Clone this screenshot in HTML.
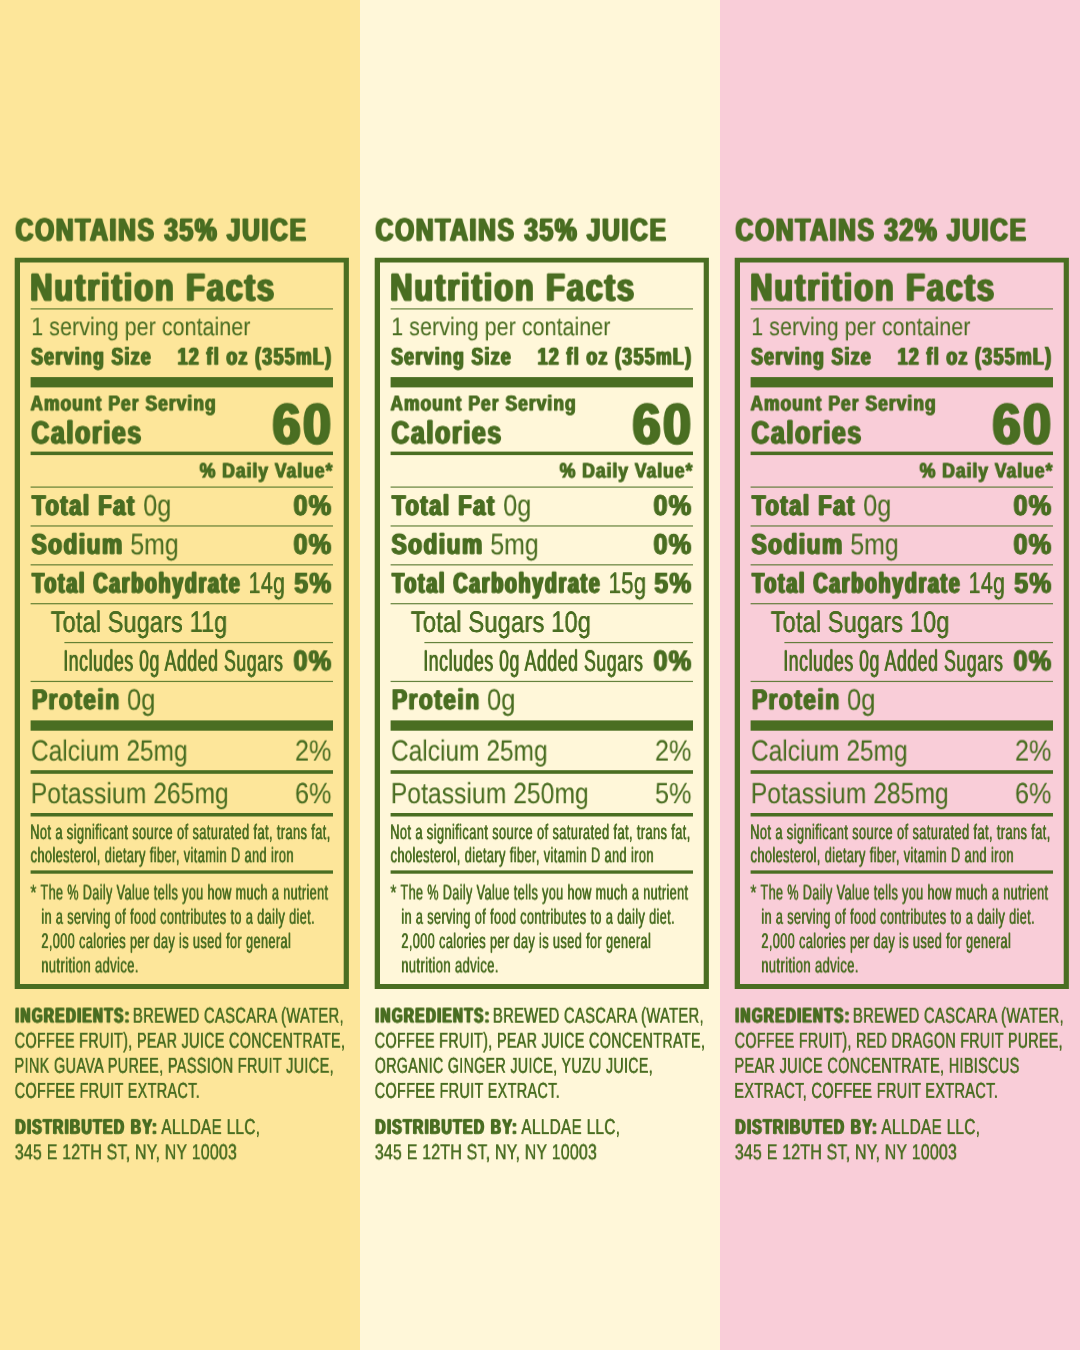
<!DOCTYPE html>
<html lang="en"><head><meta charset="utf-8"><title>Nutrition Facts</title>
<style>
html,body{margin:0;padding:0}
body{width:1080px;height:1350px;position:relative;overflow:hidden;font-family:"Liberation Sans",sans-serif;color:#4a6e22}
.col{position:absolute;top:0;width:360px;height:1350px;overflow:hidden}
.g{position:absolute;left:0;top:0;display:block}
.t{position:absolute;white-space:nowrap;line-height:0;will-change:transform;text-rendering:geometricPrecision;transform-origin:0 0;font-weight:400}
.b{font-weight:700}
</style></head><body>
<div class="col" style="left:0px;background:#fde69a">
<svg class="g" width="360" height="1350" viewBox="0 0 360 1350" fill="#4a6e22">
<path fill-rule="evenodd" d="M14.7 257.8H348.9V988.9H14.7Z M20 262.5H343.7V983.9H20Z"/>
<rect x="30.6" y="308.30" width="302.4" height="1.20" opacity=".85"/>
<rect x="30.6" y="377.10" width="302.4" height="10.30"/>
<rect x="30.6" y="451.60" width="302.4" height="3.50"/>
<rect x="30.6" y="486.50" width="302.4" height="1.20" opacity=".85"/>
<rect x="30.6" y="525.37" width="302.4" height="1.20" opacity=".85"/>
<rect x="30.6" y="564.24" width="302.4" height="1.20" opacity=".85"/>
<rect x="30.6" y="603.11" width="302.4" height="1.20" opacity=".85"/>
<rect x="64.4" y="641.98" width="268.6" height="1.20" opacity=".85"/>
<rect x="30.6" y="680.85" width="302.4" height="1.20" opacity=".85"/>
<rect x="30.6" y="720.40" width="302.4" height="10.30"/>
<rect x="30.6" y="770.20" width="302.4" height="3.60"/>
<rect x="30.6" y="813.00" width="302.4" height="3.50"/>
<rect x="30.6" y="870.40" width="302.4" height="3.30"/>
</svg>
<span class="t b" style="left:15px;top:229px;font-size:31.92px;transform:translate(0.64px,0.61px) scaleX(0.7681);-webkit-text-stroke:0.84px #4a6e22;text-shadow:1.40px 0 0 #4a6e22,-1.40px 0 0 #4a6e22;letter-spacing:2.24px;">CONTAINS 35% JUICE</span>
<span class="t b" style="left:30px;top:288px;font-size:38.78px;transform:translate(0.33px,0.51px) scaleX(0.7885);-webkit-text-stroke:1.02px #4a6e22;text-shadow:1.58px 0 0 #4a6e22,-1.58px 0 0 #4a6e22;letter-spacing:2.53px;">Nutrition Facts</span>
<span class="t" style="left:31px;top:327px;font-size:25.47px;transform:translate(0.26px,0.20px) scaleX(0.8413);-webkit-text-stroke:0.08px #4a6e22;letter-spacing:0.06px;">1 serving per container</span>
<span class="t b" style="left:31px;top:357px;font-size:24.36px;transform:translate(0.30px,0.65px) scaleX(0.7127);-webkit-text-stroke:0.64px #4a6e22;text-shadow:1.28px 0 0 #4a6e22,-1.28px 0 0 #4a6e22;letter-spacing:2.05px;">Serving Size</span>
<span class="t b" style="left:177px;top:357px;font-size:24.36px;transform:translate(0.67px,0.65px) scaleX(0.7213);-webkit-text-stroke:0.64px #4a6e22;text-shadow:1.24px 0 0 #4a6e22,-1.24px 0 0 #4a6e22;letter-spacing:1.99px;">12 fl oz (355mL)</span>
<span class="t b" style="left:30px;top:403px;font-size:21.56px;transform:translate(0.46px,0.45px) scaleX(0.8051);-webkit-text-stroke:0.57px #4a6e22;text-shadow:0.84px 0 0 #4a6e22,-0.84px 0 0 #4a6e22;letter-spacing:1.34px;">Amount Per Serving</span>
<span class="t b" style="left:31px;top:432px;font-size:31.92px;transform:translate(0.47px,0.41px) scaleX(0.7762);-webkit-text-stroke:0.84px #4a6e22;text-shadow:1.37px 0 0 #4a6e22,-1.37px 0 0 #4a6e22;letter-spacing:2.19px;">Calories</span>
<span class="t b" style="left:272px;top:424px;font-size:57.40px;transform:translate(0.53px,0.67px) scaleX(0.8788);-webkit-text-stroke:1.51px #4a6e22;text-shadow:1.69px 0 0 #4a6e22,-1.69px 0 0 #4a6e22;letter-spacing:2.71px;">60</span>
<span class="t b" style="left:199px;top:471px;font-size:20.72px;transform:translate(0.61px,0.55px) scaleX(0.8527);-webkit-text-stroke:0.55px #4a6e22;text-shadow:0.68px 0 0 #4a6e22,-0.68px 0 0 #4a6e22;letter-spacing:1.08px;">% Daily Value*</span>
<span class="t b" style="left:31px;top:506px;font-size:28.70px;transform:translate(0.99px,0.01px) scaleX(0.7657);-webkit-text-stroke:0.76px #4a6e22;text-shadow:1.26px 0 0 #4a6e22,-1.26px 0 0 #4a6e22;letter-spacing:2.02px;">Total Fat</span>
<span class="t" style="left:143px;top:506px;font-size:29.66px;transform:translate(0.23px,0.50px) scaleX(0.8500);-webkit-text-stroke:0.09px #4a6e22;letter-spacing:0.07px;">0g</span>
<span class="t b" style="left:293px;top:506px;font-size:28.70px;transform:translate(0.45px,0.01px) scaleX(0.8795);-webkit-text-stroke:0.76px #4a6e22;text-shadow:0.85px 0 0 #4a6e22,-0.85px 0 0 #4a6e22;letter-spacing:1.36px;">0%</span>
<span class="t b" style="left:31px;top:544px;font-size:28.70px;transform:translate(0.54px,0.84px) scaleX(0.7909);-webkit-text-stroke:0.76px #4a6e22;text-shadow:1.17px 0 0 #4a6e22,-1.17px 0 0 #4a6e22;letter-spacing:1.87px;">Sodium</span>
<span class="t" style="left:130px;top:545px;font-size:29.66px;transform:translate(0.27px,0.33px) scaleX(0.8378);-webkit-text-stroke:0.09px #4a6e22;letter-spacing:0.08px;">5mg</span>
<span class="t b" style="left:293px;top:544px;font-size:28.70px;transform:translate(0.45px,0.84px) scaleX(0.8796);-webkit-text-stroke:0.76px #4a6e22;text-shadow:0.85px 0 0 #4a6e22,-0.85px 0 0 #4a6e22;letter-spacing:1.36px;">0%</span>
<span class="t b" style="left:32px;top:583px;font-size:28.70px;transform:translate(0.15px,0.67px) scaleX(0.6757);-webkit-text-stroke:0.76px #4a6e22;text-shadow:1.70px 0 0 #4a6e22,-1.70px 0 0 #4a6e22;letter-spacing:2.72px;">Total Carbohydrate</span>
<span class="t" style="left:248px;top:584px;font-size:29.66px;transform:translate(0.55px,0.16px) scaleX(0.7247);-webkit-text-stroke:0.09px #4a6e22;text-shadow:0.26px 0 0 #4a6e22,-0.26px 0 0 #4a6e22;letter-spacing:0.41px;">14g</span>
<span class="t b" style="left:294px;top:583px;font-size:28.70px;transform:translate(0.34px,0.67px) scaleX(0.8586);-webkit-text-stroke:0.76px #4a6e22;text-shadow:0.93px 0 0 #4a6e22,-0.93px 0 0 #4a6e22;letter-spacing:1.48px;">5%</span>
<span class="t" style="left:50px;top:622px;font-size:29.66px;transform:translate(0.74px,0.99px) scaleX(0.7908);-webkit-text-stroke:0.09px #4a6e22;text-shadow:0.12px 0 0 #4a6e22,-0.12px 0 0 #4a6e22;letter-spacing:0.19px;">Total Sugars 11g</span>
<span class="t" style="left:63px;top:661px;font-size:29.66px;transform:translate(0.28px,0.82px) scaleX(0.5946);-webkit-text-stroke:0.09px #4a6e22;text-shadow:0.62px 0 0 #4a6e22,-0.62px 0 0 #4a6e22;letter-spacing:1.00px;">Includes 0g Added Sugars</span>
<span class="t b" style="left:293px;top:661px;font-size:28.70px;transform:translate(0.45px,0.33px) scaleX(0.8795);-webkit-text-stroke:0.76px #4a6e22;text-shadow:0.85px 0 0 #4a6e22,-0.85px 0 0 #4a6e22;letter-spacing:1.36px;">0%</span>
<span class="t b" style="left:31px;top:700px;font-size:28.70px;transform:translate(0.92px,0.16px) scaleX(0.7937);-webkit-text-stroke:0.76px #4a6e22;text-shadow:1.14px 0 0 #4a6e22,-1.14px 0 0 #4a6e22;letter-spacing:1.83px;">Protein</span>
<span class="t" style="left:126px;top:700px;font-size:29.66px;transform:translate(0.98px,0.65px) scaleX(0.8606);-webkit-text-stroke:0.09px #4a6e22;letter-spacing:0.07px;">0g</span>
<span class="t" style="left:30px;top:751px;font-size:29.23px;transform:translate(0.96px,0.60px) scaleX(0.8354);-webkit-text-stroke:0.09px #4a6e22;letter-spacing:0.07px;">Calcium 25mg</span>
<span class="t" style="left:294px;top:751px;font-size:29.23px;transform:translate(0.97px,0.60px) scaleX(0.8623);-webkit-text-stroke:0.09px #4a6e22;letter-spacing:0.07px;">2%</span>
<span class="t" style="left:30px;top:794px;font-size:29.23px;transform:translate(0.81px,0.20px) scaleX(0.8427);-webkit-text-stroke:0.09px #4a6e22;letter-spacing:0.07px;">Potassium 265mg</span>
<span class="t" style="left:294px;top:794px;font-size:29.23px;transform:translate(0.94px,0.20px) scaleX(0.8631);-webkit-text-stroke:0.09px #4a6e22;letter-spacing:0.07px;">6%</span>
<span class="t" style="left:30px;top:833px;font-size:21.13px;transform:translate(0.18px,0.10px) scaleX(0.6068);-webkit-text-stroke:0.07px #4a6e22;text-shadow:0.41px 0 0 #4a6e22,-0.41px 0 0 #4a6e22;letter-spacing:0.66px;">Not a significant source of saturated fat, trans fat,</span>
<span class="t" style="left:30px;top:856px;font-size:21.13px;transform:translate(0.61px,0.30px) scaleX(0.6039);-webkit-text-stroke:0.07px #4a6e22;text-shadow:0.42px 0 0 #4a6e22,-0.42px 0 0 #4a6e22;letter-spacing:0.67px;">cholesterol, dietary fiber, vitamin D and iron</span>
<span class="t" style="left:30px;top:893px;font-size:21.13px;transform:translate(0.39px,0.50px) scaleX(0.7355);-webkit-text-stroke:0.07px #4a6e22;text-shadow:0.17px 0 0 #4a6e22,-0.17px 0 0 #4a6e22;letter-spacing:0.27px;">*</span>
<span class="t" style="left:40px;top:893px;font-size:21.13px;transform:translate(0.53px,0.50px) scaleX(0.5934);-webkit-text-stroke:0.07px #4a6e22;text-shadow:0.45px 0 0 #4a6e22,-0.45px 0 0 #4a6e22;letter-spacing:0.71px;">The % Daily Value tells you how much a nutrient</span>
<span class="t" style="left:41px;top:917px;font-size:21.13px;transform:translate(0.27px,0.80px) scaleX(0.5982);-webkit-text-stroke:0.07px #4a6e22;text-shadow:0.43px 0 0 #4a6e22,-0.43px 0 0 #4a6e22;letter-spacing:0.69px;">in a serving of food contributes to a daily diet.</span>
<span class="t" style="left:41px;top:942px;font-size:21.13px;transform:translate(0.36px,0.10px) scaleX(0.6003);-webkit-text-stroke:0.07px #4a6e22;text-shadow:0.43px 0 0 #4a6e22,-0.43px 0 0 #4a6e22;letter-spacing:0.68px;">2,000 calories per day is used for general</span>
<span class="t" style="left:41px;top:966px;font-size:21.13px;transform:translate(0.21px,0.40px) scaleX(0.6152);-webkit-text-stroke:0.07px #4a6e22;text-shadow:0.39px 0 0 #4a6e22,-0.39px 0 0 #4a6e22;letter-spacing:0.63px;">nutrition advice.</span>
<span class="t b" style="left:15px;top:1016px;font-size:21.00px;transform:translate(0.29px,0.45px) scaleX(0.6554);-webkit-text-stroke:0.55px #4a6e22;text-shadow:1.33px 0 0 #4a6e22,-1.33px 0 0 #4a6e22;letter-spacing:2.12px;">INGREDIENTS:</span>
<span class="t" style="left:132px;top:1015px;font-size:21.70px;transform:translate(0.87px,0.70px) scaleX(0.6820);-webkit-text-stroke:0.07px #4a6e22;text-shadow:0.27px 0 0 #4a6e22,-0.27px 0 0 #4a6e22;letter-spacing:0.43px;">BREWED CASCARA (WATER,</span>
<span class="t" style="left:14px;top:1040px;font-size:21.70px;transform:translate(0.66px,0.75px) scaleX(0.6624);-webkit-text-stroke:0.07px #4a6e22;text-shadow:0.31px 0 0 #4a6e22,-0.31px 0 0 #4a6e22;letter-spacing:0.49px;">COFFEE FRUIT), PEAR JUICE CONCENTRATE,</span>
<span class="t" style="left:14px;top:1065px;font-size:21.70px;transform:translate(0.48px,0.80px) scaleX(0.6685);-webkit-text-stroke:0.07px #4a6e22;text-shadow:0.29px 0 0 #4a6e22,-0.29px 0 0 #4a6e22;letter-spacing:0.47px;">PINK GUAVA PUREE, PASSION FRUIT JUICE,</span>
<span class="t" style="left:14px;top:1090px;font-size:21.70px;transform:translate(0.67px,0.85px) scaleX(0.6664);-webkit-text-stroke:0.07px #4a6e22;text-shadow:0.30px 0 0 #4a6e22,-0.30px 0 0 #4a6e22;letter-spacing:0.47px;">COFFEE FRUIT EXTRACT.</span>
<span class="t b" style="left:15px;top:1127px;font-size:21.00px;transform:translate(0.29px,0.85px) scaleX(0.6761);-webkit-text-stroke:0.55px #4a6e22;text-shadow:1.24px 0 0 #4a6e22,-1.24px 0 0 #4a6e22;letter-spacing:1.98px;">DISTRIBUTED BY:</span>
<span class="t" style="left:161px;top:1127px;font-size:21.70px;transform:translate(0.32px,0.10px) scaleX(0.7130);-webkit-text-stroke:0.07px #4a6e22;text-shadow:0.21px 0 0 #4a6e22,-0.21px 0 0 #4a6e22;letter-spacing:0.33px;">ALLDAE LLC,</span>
<span class="t" style="left:14px;top:1152px;font-size:21.70px;transform:translate(0.76px,0.30px) scaleX(0.7358);-webkit-text-stroke:0.07px #4a6e22;text-shadow:0.17px 0 0 #4a6e22,-0.17px 0 0 #4a6e22;letter-spacing:0.28px;">345 E 12TH ST, NY, NY 10003</span>
</div>
<div class="col" style="left:360px;background:#fff7d9">
<svg class="g" width="360" height="1350" viewBox="0 0 360 1350" fill="#4a6e22">
<path fill-rule="evenodd" d="M14.7 257.8H348.9V988.9H14.7Z M20 262.5H343.7V983.9H20Z"/>
<rect x="30.6" y="308.30" width="302.4" height="1.20" opacity=".85"/>
<rect x="30.6" y="377.10" width="302.4" height="10.30"/>
<rect x="30.6" y="451.60" width="302.4" height="3.50"/>
<rect x="30.6" y="486.50" width="302.4" height="1.20" opacity=".85"/>
<rect x="30.6" y="525.37" width="302.4" height="1.20" opacity=".85"/>
<rect x="30.6" y="564.24" width="302.4" height="1.20" opacity=".85"/>
<rect x="30.6" y="603.11" width="302.4" height="1.20" opacity=".85"/>
<rect x="64.4" y="641.98" width="268.6" height="1.20" opacity=".85"/>
<rect x="30.6" y="680.85" width="302.4" height="1.20" opacity=".85"/>
<rect x="30.6" y="720.40" width="302.4" height="10.30"/>
<rect x="30.6" y="770.20" width="302.4" height="3.60"/>
<rect x="30.6" y="813.00" width="302.4" height="3.50"/>
<rect x="30.6" y="870.40" width="302.4" height="3.30"/>
</svg>
<span class="t b" style="left:15px;top:229px;font-size:31.92px;transform:translate(0.64px,0.61px) scaleX(0.7681);-webkit-text-stroke:0.84px #4a6e22;text-shadow:1.40px 0 0 #4a6e22,-1.40px 0 0 #4a6e22;letter-spacing:2.24px;">CONTAINS 35% JUICE</span>
<span class="t b" style="left:30px;top:288px;font-size:38.78px;transform:translate(0.33px,0.51px) scaleX(0.7885);-webkit-text-stroke:1.02px #4a6e22;text-shadow:1.58px 0 0 #4a6e22,-1.58px 0 0 #4a6e22;letter-spacing:2.53px;">Nutrition Facts</span>
<span class="t" style="left:31px;top:327px;font-size:25.47px;transform:translate(0.26px,0.20px) scaleX(0.8413);-webkit-text-stroke:0.08px #4a6e22;letter-spacing:0.06px;">1 serving per container</span>
<span class="t b" style="left:31px;top:357px;font-size:24.36px;transform:translate(0.31px,0.65px) scaleX(0.7127);-webkit-text-stroke:0.64px #4a6e22;text-shadow:1.28px 0 0 #4a6e22,-1.28px 0 0 #4a6e22;letter-spacing:2.05px;">Serving Size</span>
<span class="t b" style="left:177px;top:357px;font-size:24.36px;transform:translate(0.67px,0.65px) scaleX(0.7213);-webkit-text-stroke:0.64px #4a6e22;text-shadow:1.24px 0 0 #4a6e22,-1.24px 0 0 #4a6e22;letter-spacing:1.99px;">12 fl oz (355mL)</span>
<span class="t b" style="left:30px;top:403px;font-size:21.56px;transform:translate(0.46px,0.45px) scaleX(0.8051);-webkit-text-stroke:0.57px #4a6e22;text-shadow:0.84px 0 0 #4a6e22,-0.84px 0 0 #4a6e22;letter-spacing:1.34px;">Amount Per Serving</span>
<span class="t b" style="left:31px;top:432px;font-size:31.92px;transform:translate(0.47px,0.41px) scaleX(0.7762);-webkit-text-stroke:0.84px #4a6e22;text-shadow:1.37px 0 0 #4a6e22,-1.37px 0 0 #4a6e22;letter-spacing:2.19px;">Calories</span>
<span class="t b" style="left:272px;top:424px;font-size:57.40px;transform:translate(0.53px,0.67px) scaleX(0.8789);-webkit-text-stroke:1.51px #4a6e22;text-shadow:1.69px 0 0 #4a6e22,-1.69px 0 0 #4a6e22;letter-spacing:2.71px;">60</span>
<span class="t b" style="left:199px;top:471px;font-size:20.72px;transform:translate(0.61px,0.55px) scaleX(0.8527);-webkit-text-stroke:0.55px #4a6e22;text-shadow:0.68px 0 0 #4a6e22,-0.68px 0 0 #4a6e22;letter-spacing:1.08px;">% Daily Value*</span>
<span class="t b" style="left:31px;top:506px;font-size:28.70px;transform:translate(0.99px,0.01px) scaleX(0.7657);-webkit-text-stroke:0.76px #4a6e22;text-shadow:1.26px 0 0 #4a6e22,-1.26px 0 0 #4a6e22;letter-spacing:2.02px;">Total Fat</span>
<span class="t" style="left:143px;top:506px;font-size:29.66px;transform:translate(0.22px,0.50px) scaleX(0.8500);-webkit-text-stroke:0.09px #4a6e22;letter-spacing:0.07px;">0g</span>
<span class="t b" style="left:293px;top:506px;font-size:28.70px;transform:translate(0.45px,0.01px) scaleX(0.8795);-webkit-text-stroke:0.76px #4a6e22;text-shadow:0.85px 0 0 #4a6e22,-0.85px 0 0 #4a6e22;letter-spacing:1.36px;">0%</span>
<span class="t b" style="left:31px;top:544px;font-size:28.70px;transform:translate(0.54px,0.84px) scaleX(0.7909);-webkit-text-stroke:0.76px #4a6e22;text-shadow:1.17px 0 0 #4a6e22,-1.17px 0 0 #4a6e22;letter-spacing:1.87px;">Sodium</span>
<span class="t" style="left:130px;top:545px;font-size:29.66px;transform:translate(0.27px,0.33px) scaleX(0.8378);-webkit-text-stroke:0.09px #4a6e22;letter-spacing:0.08px;">5mg</span>
<span class="t b" style="left:293px;top:544px;font-size:28.70px;transform:translate(0.45px,0.84px) scaleX(0.8796);-webkit-text-stroke:0.76px #4a6e22;text-shadow:0.85px 0 0 #4a6e22,-0.85px 0 0 #4a6e22;letter-spacing:1.36px;">0%</span>
<span class="t b" style="left:32px;top:583px;font-size:28.70px;transform:translate(0.15px,0.67px) scaleX(0.6757);-webkit-text-stroke:0.76px #4a6e22;text-shadow:1.70px 0 0 #4a6e22,-1.70px 0 0 #4a6e22;letter-spacing:2.72px;">Total Carbohydrate</span>
<span class="t" style="left:248px;top:584px;font-size:29.66px;transform:translate(0.49px,0.16px) scaleX(0.7529);-webkit-text-stroke:0.09px #4a6e22;text-shadow:0.19px 0 0 #4a6e22,-0.19px 0 0 #4a6e22;letter-spacing:0.30px;">15g</span>
<span class="t b" style="left:294px;top:583px;font-size:28.70px;transform:translate(0.40px,0.67px) scaleX(0.8573);-webkit-text-stroke:0.76px #4a6e22;text-shadow:0.93px 0 0 #4a6e22,-0.93px 0 0 #4a6e22;letter-spacing:1.48px;">5%</span>
<span class="t" style="left:50px;top:622px;font-size:29.66px;transform:translate(0.77px,0.99px) scaleX(0.8013);-webkit-text-stroke:0.09px #4a6e22;text-shadow:0.10px 0 0 #4a6e22,-0.10px 0 0 #4a6e22;letter-spacing:0.16px;">Total Sugars 10g</span>
<span class="t" style="left:63px;top:661px;font-size:29.66px;transform:translate(0.28px,0.82px) scaleX(0.5946);-webkit-text-stroke:0.09px #4a6e22;text-shadow:0.62px 0 0 #4a6e22,-0.62px 0 0 #4a6e22;letter-spacing:1.00px;">Includes 0g Added Sugars</span>
<span class="t b" style="left:293px;top:661px;font-size:28.70px;transform:translate(0.45px,0.33px) scaleX(0.8796);-webkit-text-stroke:0.76px #4a6e22;text-shadow:0.85px 0 0 #4a6e22,-0.85px 0 0 #4a6e22;letter-spacing:1.36px;">0%</span>
<span class="t b" style="left:31px;top:700px;font-size:28.70px;transform:translate(0.92px,0.16px) scaleX(0.7938);-webkit-text-stroke:0.76px #4a6e22;text-shadow:1.14px 0 0 #4a6e22,-1.14px 0 0 #4a6e22;letter-spacing:1.83px;">Protein</span>
<span class="t" style="left:126px;top:700px;font-size:29.66px;transform:translate(0.98px,0.65px) scaleX(0.8607);-webkit-text-stroke:0.09px #4a6e22;letter-spacing:0.07px;">0g</span>
<span class="t" style="left:30px;top:751px;font-size:29.23px;transform:translate(0.96px,0.60px) scaleX(0.8354);-webkit-text-stroke:0.09px #4a6e22;letter-spacing:0.07px;">Calcium 25mg</span>
<span class="t" style="left:294px;top:751px;font-size:29.23px;transform:translate(0.96px,0.60px) scaleX(0.8624);-webkit-text-stroke:0.09px #4a6e22;letter-spacing:0.07px;">2%</span>
<span class="t" style="left:30px;top:794px;font-size:29.23px;transform:translate(0.81px,0.20px) scaleX(0.8427);-webkit-text-stroke:0.09px #4a6e22;letter-spacing:0.07px;">Potassium 250mg</span>
<span class="t" style="left:294px;top:794px;font-size:29.23px;transform:translate(0.97px,0.20px) scaleX(0.8638);-webkit-text-stroke:0.09px #4a6e22;letter-spacing:0.07px;">5%</span>
<span class="t" style="left:30px;top:833px;font-size:21.13px;transform:translate(0.18px,0.10px) scaleX(0.6068);-webkit-text-stroke:0.07px #4a6e22;text-shadow:0.41px 0 0 #4a6e22,-0.41px 0 0 #4a6e22;letter-spacing:0.66px;">Not a significant source of saturated fat, trans fat,</span>
<span class="t" style="left:30px;top:856px;font-size:21.13px;transform:translate(0.61px,0.30px) scaleX(0.6039);-webkit-text-stroke:0.07px #4a6e22;text-shadow:0.42px 0 0 #4a6e22,-0.42px 0 0 #4a6e22;letter-spacing:0.67px;">cholesterol, dietary fiber, vitamin D and iron</span>
<span class="t" style="left:30px;top:893px;font-size:21.13px;transform:translate(0.39px,0.50px) scaleX(0.7355);-webkit-text-stroke:0.07px #4a6e22;text-shadow:0.17px 0 0 #4a6e22,-0.17px 0 0 #4a6e22;letter-spacing:0.27px;">*</span>
<span class="t" style="left:40px;top:893px;font-size:21.13px;transform:translate(0.53px,0.50px) scaleX(0.5934);-webkit-text-stroke:0.07px #4a6e22;text-shadow:0.45px 0 0 #4a6e22,-0.45px 0 0 #4a6e22;letter-spacing:0.71px;">The % Daily Value tells you how much a nutrient</span>
<span class="t" style="left:41px;top:917px;font-size:21.13px;transform:translate(0.27px,0.80px) scaleX(0.5982);-webkit-text-stroke:0.07px #4a6e22;text-shadow:0.43px 0 0 #4a6e22,-0.43px 0 0 #4a6e22;letter-spacing:0.69px;">in a serving of food contributes to a daily diet.</span>
<span class="t" style="left:41px;top:942px;font-size:21.13px;transform:translate(0.36px,0.10px) scaleX(0.6003);-webkit-text-stroke:0.07px #4a6e22;text-shadow:0.43px 0 0 #4a6e22,-0.43px 0 0 #4a6e22;letter-spacing:0.68px;">2,000 calories per day is used for general</span>
<span class="t" style="left:41px;top:966px;font-size:21.13px;transform:translate(0.21px,0.40px) scaleX(0.6152);-webkit-text-stroke:0.07px #4a6e22;text-shadow:0.39px 0 0 #4a6e22,-0.39px 0 0 #4a6e22;letter-spacing:0.63px;">nutrition advice.</span>
<span class="t b" style="left:15px;top:1016px;font-size:21.00px;transform:translate(0.29px,0.45px) scaleX(0.6554);-webkit-text-stroke:0.55px #4a6e22;text-shadow:1.33px 0 0 #4a6e22,-1.33px 0 0 #4a6e22;letter-spacing:2.12px;">INGREDIENTS:</span>
<span class="t" style="left:132px;top:1015px;font-size:21.70px;transform:translate(0.87px,0.70px) scaleX(0.6820);-webkit-text-stroke:0.07px #4a6e22;text-shadow:0.27px 0 0 #4a6e22,-0.27px 0 0 #4a6e22;letter-spacing:0.43px;">BREWED CASCARA (WATER,</span>
<span class="t" style="left:14px;top:1040px;font-size:21.70px;transform:translate(0.66px,0.75px) scaleX(0.6624);-webkit-text-stroke:0.07px #4a6e22;text-shadow:0.31px 0 0 #4a6e22,-0.31px 0 0 #4a6e22;letter-spacing:0.49px;">COFFEE FRUIT), PEAR JUICE CONCENTRATE,</span>
<span class="t" style="left:14px;top:1065px;font-size:21.70px;transform:translate(0.80px,0.80px) scaleX(0.6565);-webkit-text-stroke:0.07px #4a6e22;text-shadow:0.32px 0 0 #4a6e22,-0.32px 0 0 #4a6e22;letter-spacing:0.51px;">ORGANIC GINGER JUICE, YUZU JUICE,</span>
<span class="t" style="left:14px;top:1090px;font-size:21.70px;transform:translate(0.67px,0.85px) scaleX(0.6664);-webkit-text-stroke:0.07px #4a6e22;text-shadow:0.30px 0 0 #4a6e22,-0.30px 0 0 #4a6e22;letter-spacing:0.47px;">COFFEE FRUIT EXTRACT.</span>
<span class="t b" style="left:15px;top:1127px;font-size:21.00px;transform:translate(0.29px,0.85px) scaleX(0.6761);-webkit-text-stroke:0.55px #4a6e22;text-shadow:1.24px 0 0 #4a6e22,-1.24px 0 0 #4a6e22;letter-spacing:1.98px;">DISTRIBUTED BY:</span>
<span class="t" style="left:161px;top:1127px;font-size:21.70px;transform:translate(0.32px,0.10px) scaleX(0.7130);-webkit-text-stroke:0.07px #4a6e22;text-shadow:0.21px 0 0 #4a6e22,-0.21px 0 0 #4a6e22;letter-spacing:0.33px;">ALLDAE LLC,</span>
<span class="t" style="left:14px;top:1152px;font-size:21.70px;transform:translate(0.76px,0.30px) scaleX(0.7358);-webkit-text-stroke:0.07px #4a6e22;text-shadow:0.17px 0 0 #4a6e22,-0.17px 0 0 #4a6e22;letter-spacing:0.28px;">345 E 12TH ST, NY, NY 10003</span>
</div>
<div class="col" style="left:720px;background:#f9cdd8">
<svg class="g" width="360" height="1350" viewBox="0 0 360 1350" fill="#4a6e22">
<path fill-rule="evenodd" d="M14.7 257.8H348.9V988.9H14.7Z M20 262.5H343.7V983.9H20Z"/>
<rect x="30.6" y="308.30" width="302.4" height="1.20" opacity=".85"/>
<rect x="30.6" y="377.10" width="302.4" height="10.30"/>
<rect x="30.6" y="451.60" width="302.4" height="3.50"/>
<rect x="30.6" y="486.50" width="302.4" height="1.20" opacity=".85"/>
<rect x="30.6" y="525.37" width="302.4" height="1.20" opacity=".85"/>
<rect x="30.6" y="564.24" width="302.4" height="1.20" opacity=".85"/>
<rect x="30.6" y="603.11" width="302.4" height="1.20" opacity=".85"/>
<rect x="64.4" y="641.98" width="268.6" height="1.20" opacity=".85"/>
<rect x="30.6" y="680.85" width="302.4" height="1.20" opacity=".85"/>
<rect x="30.6" y="720.40" width="302.4" height="10.30"/>
<rect x="30.6" y="770.20" width="302.4" height="3.60"/>
<rect x="30.6" y="813.00" width="302.4" height="3.50"/>
<rect x="30.6" y="870.40" width="302.4" height="3.30"/>
</svg>
<span class="t b" style="left:15px;top:229px;font-size:31.92px;transform:translate(0.64px,0.61px) scaleX(0.7681);-webkit-text-stroke:0.84px #4a6e22;text-shadow:1.40px 0 0 #4a6e22,-1.40px 0 0 #4a6e22;letter-spacing:2.24px;">CONTAINS 32% JUICE</span>
<span class="t b" style="left:30px;top:288px;font-size:38.78px;transform:translate(0.32px,0.51px) scaleX(0.7885);-webkit-text-stroke:1.02px #4a6e22;text-shadow:1.58px 0 0 #4a6e22,-1.58px 0 0 #4a6e22;letter-spacing:2.53px;">Nutrition Facts</span>
<span class="t" style="left:31px;top:327px;font-size:25.47px;transform:translate(0.26px,0.20px) scaleX(0.8413);-webkit-text-stroke:0.08px #4a6e22;letter-spacing:0.06px;">1 serving per container</span>
<span class="t b" style="left:31px;top:357px;font-size:24.36px;transform:translate(0.31px,0.65px) scaleX(0.7127);-webkit-text-stroke:0.64px #4a6e22;text-shadow:1.28px 0 0 #4a6e22,-1.28px 0 0 #4a6e22;letter-spacing:2.05px;">Serving Size</span>
<span class="t b" style="left:177px;top:357px;font-size:24.36px;transform:translate(0.67px,0.65px) scaleX(0.7213);-webkit-text-stroke:0.64px #4a6e22;text-shadow:1.24px 0 0 #4a6e22,-1.24px 0 0 #4a6e22;letter-spacing:1.99px;">12 fl oz (355mL)</span>
<span class="t b" style="left:30px;top:403px;font-size:21.56px;transform:translate(0.46px,0.45px) scaleX(0.8051);-webkit-text-stroke:0.57px #4a6e22;text-shadow:0.84px 0 0 #4a6e22,-0.84px 0 0 #4a6e22;letter-spacing:1.34px;">Amount Per Serving</span>
<span class="t b" style="left:31px;top:432px;font-size:31.92px;transform:translate(0.47px,0.41px) scaleX(0.7762);-webkit-text-stroke:0.84px #4a6e22;text-shadow:1.37px 0 0 #4a6e22,-1.37px 0 0 #4a6e22;letter-spacing:2.19px;">Calories</span>
<span class="t b" style="left:272px;top:424px;font-size:57.40px;transform:translate(0.53px,0.67px) scaleX(0.8789);-webkit-text-stroke:1.51px #4a6e22;text-shadow:1.69px 0 0 #4a6e22,-1.69px 0 0 #4a6e22;letter-spacing:2.71px;">60</span>
<span class="t b" style="left:199px;top:471px;font-size:20.72px;transform:translate(0.61px,0.55px) scaleX(0.8527);-webkit-text-stroke:0.55px #4a6e22;text-shadow:0.68px 0 0 #4a6e22,-0.68px 0 0 #4a6e22;letter-spacing:1.08px;">% Daily Value*</span>
<span class="t b" style="left:31px;top:506px;font-size:28.70px;transform:translate(0.99px,0.01px) scaleX(0.7657);-webkit-text-stroke:0.76px #4a6e22;text-shadow:1.26px 0 0 #4a6e22,-1.26px 0 0 #4a6e22;letter-spacing:2.02px;">Total Fat</span>
<span class="t" style="left:143px;top:506px;font-size:29.66px;transform:translate(0.22px,0.50px) scaleX(0.8500);-webkit-text-stroke:0.09px #4a6e22;letter-spacing:0.07px;">0g</span>
<span class="t b" style="left:293px;top:506px;font-size:28.70px;transform:translate(0.45px,0.01px) scaleX(0.8795);-webkit-text-stroke:0.76px #4a6e22;text-shadow:0.85px 0 0 #4a6e22,-0.85px 0 0 #4a6e22;letter-spacing:1.36px;">0%</span>
<span class="t b" style="left:31px;top:544px;font-size:28.70px;transform:translate(0.54px,0.84px) scaleX(0.7909);-webkit-text-stroke:0.76px #4a6e22;text-shadow:1.17px 0 0 #4a6e22,-1.17px 0 0 #4a6e22;letter-spacing:1.87px;">Sodium</span>
<span class="t" style="left:130px;top:545px;font-size:29.66px;transform:translate(0.27px,0.33px) scaleX(0.8378);-webkit-text-stroke:0.09px #4a6e22;letter-spacing:0.08px;">5mg</span>
<span class="t b" style="left:293px;top:544px;font-size:28.70px;transform:translate(0.45px,0.84px) scaleX(0.8796);-webkit-text-stroke:0.76px #4a6e22;text-shadow:0.85px 0 0 #4a6e22,-0.85px 0 0 #4a6e22;letter-spacing:1.36px;">0%</span>
<span class="t b" style="left:32px;top:583px;font-size:28.70px;transform:translate(0.15px,0.67px) scaleX(0.6757);-webkit-text-stroke:0.76px #4a6e22;text-shadow:1.70px 0 0 #4a6e22,-1.70px 0 0 #4a6e22;letter-spacing:2.72px;">Total Carbohydrate</span>
<span class="t" style="left:248px;top:584px;font-size:29.66px;transform:translate(0.55px,0.16px) scaleX(0.7248);-webkit-text-stroke:0.09px #4a6e22;text-shadow:0.26px 0 0 #4a6e22,-0.26px 0 0 #4a6e22;letter-spacing:0.41px;">14g</span>
<span class="t b" style="left:294px;top:583px;font-size:28.70px;transform:translate(0.34px,0.67px) scaleX(0.8587);-webkit-text-stroke:0.76px #4a6e22;text-shadow:0.93px 0 0 #4a6e22,-0.93px 0 0 #4a6e22;letter-spacing:1.48px;">5%</span>
<span class="t" style="left:50px;top:622px;font-size:29.66px;transform:translate(0.74px,0.99px) scaleX(0.7928);-webkit-text-stroke:0.09px #4a6e22;text-shadow:0.11px 0 0 #4a6e22,-0.11px 0 0 #4a6e22;letter-spacing:0.18px;">Total Sugars 10g</span>
<span class="t" style="left:63px;top:661px;font-size:29.66px;transform:translate(0.28px,0.82px) scaleX(0.5946);-webkit-text-stroke:0.09px #4a6e22;text-shadow:0.62px 0 0 #4a6e22,-0.62px 0 0 #4a6e22;letter-spacing:1.00px;">Includes 0g Added Sugars</span>
<span class="t b" style="left:293px;top:661px;font-size:28.70px;transform:translate(0.45px,0.33px) scaleX(0.8795);-webkit-text-stroke:0.76px #4a6e22;text-shadow:0.85px 0 0 #4a6e22,-0.85px 0 0 #4a6e22;letter-spacing:1.36px;">0%</span>
<span class="t b" style="left:31px;top:700px;font-size:28.70px;transform:translate(0.92px,0.16px) scaleX(0.7938);-webkit-text-stroke:0.76px #4a6e22;text-shadow:1.14px 0 0 #4a6e22,-1.14px 0 0 #4a6e22;letter-spacing:1.83px;">Protein</span>
<span class="t" style="left:126px;top:700px;font-size:29.66px;transform:translate(0.98px,0.65px) scaleX(0.8607);-webkit-text-stroke:0.09px #4a6e22;letter-spacing:0.07px;">0g</span>
<span class="t" style="left:30px;top:751px;font-size:29.23px;transform:translate(0.96px,0.60px) scaleX(0.8354);-webkit-text-stroke:0.09px #4a6e22;letter-spacing:0.07px;">Calcium 25mg</span>
<span class="t" style="left:294px;top:751px;font-size:29.23px;transform:translate(0.97px,0.60px) scaleX(0.8624);-webkit-text-stroke:0.09px #4a6e22;letter-spacing:0.07px;">2%</span>
<span class="t" style="left:30px;top:794px;font-size:29.23px;transform:translate(0.81px,0.20px) scaleX(0.8427);-webkit-text-stroke:0.09px #4a6e22;letter-spacing:0.07px;">Potassium 285mg</span>
<span class="t" style="left:294px;top:794px;font-size:29.23px;transform:translate(0.94px,0.20px) scaleX(0.8632);-webkit-text-stroke:0.09px #4a6e22;letter-spacing:0.07px;">6%</span>
<span class="t" style="left:30px;top:833px;font-size:21.13px;transform:translate(0.17px,0.10px) scaleX(0.6068);-webkit-text-stroke:0.07px #4a6e22;text-shadow:0.41px 0 0 #4a6e22,-0.41px 0 0 #4a6e22;letter-spacing:0.66px;">Not a significant source of saturated fat, trans fat,</span>
<span class="t" style="left:30px;top:856px;font-size:21.13px;transform:translate(0.57px,0.30px) scaleX(0.6040);-webkit-text-stroke:0.07px #4a6e22;text-shadow:0.42px 0 0 #4a6e22,-0.42px 0 0 #4a6e22;letter-spacing:0.67px;">cholesterol, dietary fiber, vitamin D and iron</span>
<span class="t" style="left:30px;top:893px;font-size:21.13px;transform:translate(0.39px,0.50px) scaleX(0.7355);-webkit-text-stroke:0.07px #4a6e22;text-shadow:0.17px 0 0 #4a6e22,-0.17px 0 0 #4a6e22;letter-spacing:0.27px;">*</span>
<span class="t" style="left:40px;top:893px;font-size:21.13px;transform:translate(0.53px,0.50px) scaleX(0.5934);-webkit-text-stroke:0.07px #4a6e22;text-shadow:0.45px 0 0 #4a6e22,-0.45px 0 0 #4a6e22;letter-spacing:0.71px;">The % Daily Value tells you how much a nutrient</span>
<span class="t" style="left:41px;top:917px;font-size:21.13px;transform:translate(0.27px,0.80px) scaleX(0.5982);-webkit-text-stroke:0.07px #4a6e22;text-shadow:0.43px 0 0 #4a6e22,-0.43px 0 0 #4a6e22;letter-spacing:0.69px;">in a serving of food contributes to a daily diet.</span>
<span class="t" style="left:41px;top:942px;font-size:21.13px;transform:translate(0.36px,0.10px) scaleX(0.6003);-webkit-text-stroke:0.07px #4a6e22;text-shadow:0.43px 0 0 #4a6e22,-0.43px 0 0 #4a6e22;letter-spacing:0.68px;">2,000 calories per day is used for general</span>
<span class="t" style="left:41px;top:966px;font-size:21.13px;transform:translate(0.21px,0.40px) scaleX(0.6152);-webkit-text-stroke:0.07px #4a6e22;text-shadow:0.39px 0 0 #4a6e22,-0.39px 0 0 #4a6e22;letter-spacing:0.63px;">nutrition advice.</span>
<span class="t b" style="left:15px;top:1016px;font-size:21.00px;transform:translate(0.29px,0.45px) scaleX(0.6554);-webkit-text-stroke:0.55px #4a6e22;text-shadow:1.33px 0 0 #4a6e22,-1.33px 0 0 #4a6e22;letter-spacing:2.12px;">INGREDIENTS:</span>
<span class="t" style="left:132px;top:1015px;font-size:21.70px;transform:translate(0.88px,0.70px) scaleX(0.6820);-webkit-text-stroke:0.07px #4a6e22;text-shadow:0.27px 0 0 #4a6e22,-0.27px 0 0 #4a6e22;letter-spacing:0.43px;">BREWED CASCARA (WATER,</span>
<span class="t" style="left:14px;top:1040px;font-size:21.70px;transform:translate(0.67px,0.75px) scaleX(0.6573);-webkit-text-stroke:0.07px #4a6e22;text-shadow:0.31px 0 0 #4a6e22,-0.31px 0 0 #4a6e22;letter-spacing:0.50px;">COFFEE FRUIT), RED DRAGON FRUIT PUREE,</span>
<span class="t" style="left:14px;top:1065px;font-size:21.70px;transform:translate(0.48px,0.80px) scaleX(0.6683);-webkit-text-stroke:0.07px #4a6e22;text-shadow:0.29px 0 0 #4a6e22,-0.29px 0 0 #4a6e22;letter-spacing:0.47px;">PEAR JUICE CONCENTRATE, HIBISCUS</span>
<span class="t" style="left:14px;top:1090px;font-size:21.70px;transform:translate(0.19px,0.85px) scaleX(0.6716);-webkit-text-stroke:0.07px #4a6e22;text-shadow:0.29px 0 0 #4a6e22,-0.29px 0 0 #4a6e22;letter-spacing:0.46px;">EXTRACT, COFFEE FRUIT EXTRACT.</span>
<span class="t b" style="left:15px;top:1127px;font-size:21.00px;transform:translate(0.29px,0.85px) scaleX(0.6761);-webkit-text-stroke:0.55px #4a6e22;text-shadow:1.24px 0 0 #4a6e22,-1.24px 0 0 #4a6e22;letter-spacing:1.98px;">DISTRIBUTED BY:</span>
<span class="t" style="left:161px;top:1127px;font-size:21.70px;transform:translate(0.32px,0.10px) scaleX(0.7130);-webkit-text-stroke:0.07px #4a6e22;text-shadow:0.21px 0 0 #4a6e22,-0.21px 0 0 #4a6e22;letter-spacing:0.33px;">ALLDAE LLC,</span>
<span class="t" style="left:14px;top:1152px;font-size:21.70px;transform:translate(0.76px,0.30px) scaleX(0.7358);-webkit-text-stroke:0.07px #4a6e22;text-shadow:0.17px 0 0 #4a6e22,-0.17px 0 0 #4a6e22;letter-spacing:0.28px;">345 E 12TH ST, NY, NY 10003</span>
</div>
</body></html>
